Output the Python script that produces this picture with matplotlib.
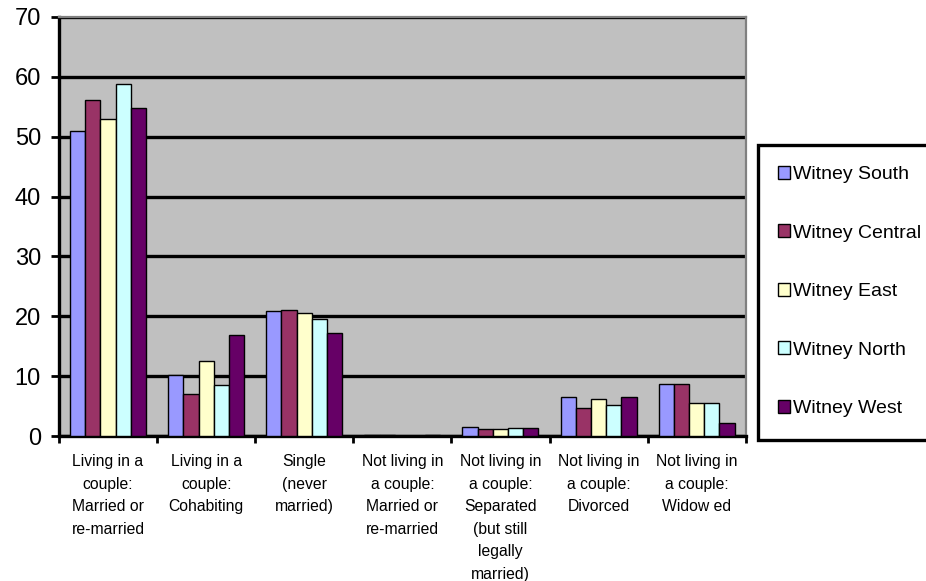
import matplotlib
matplotlib.use("Agg")
import matplotlib.pyplot as plt
from matplotlib.patches import Rectangle
import numpy as np

plt.rcParams['font.family'] = ['Liberation Sans', 'DejaVu Sans']

categories = [
    "Living in a\ncouple:\nMarried or\nre-married",
    "Living in a\ncouple:\nCohabiting",
    "Single\n(never\nmarried)",
    "Not living in\na couple:\nMarried or\nre-married",
    "Not living in\na couple:\nSeparated\n(but still\nlegally\nmarried)",
    "Not living in\na couple:\nDivorced",
    "Not living in\na couple:\nWidow ed",
]
series_names = ["Witney South", "Witney Central", "Witney East", "Witney North", "Witney West"]
witney_south = [51.0, 10.2, 20.9, 0.3, 1.5, 6.5, 8.8]
witney_central = [56.1, 7.0, 21.1, 0.3, 1.2, 4.7, 8.8]
witney_east = [53.0, 12.6, 20.6, 0.1, 1.2, 6.3, 5.6]
witney_north = [58.8, 8.5, 19.6, 0.1, 1.4, 5.3, 5.6]
witney_west = [54.8, 16.9, 17.2, 0.3, 1.4, 6.5, 2.3]
series_values = [witney_south, witney_central, witney_east, witney_north, witney_west]
colors = ["#9999FF", "#993366", "#FFFFCC", "#CCFFFF", "#660066"]
yticks = [0, 10, 20, 30, 40, 50, 60, 70]

W, H = 926, 581
fig = plt.figure(figsize=(W / 100, H / 100), dpi=100)
ax = fig.add_axes([59 / W, 1 - 436.3 / H, (745.7 - 59) / W, (436.3 - 16.7) / H])
ax.set_facecolor("#C0C0C0")

n = len(series_names)
x = np.arange(len(categories))
bw = 0.155
handles = []
for i, (name, vals, c) in enumerate(zip(series_names, series_values, colors)):
    h = ax.bar(x + (i - (n - 1) / 2) * bw, vals, width=bw, color=c,
               edgecolor="black", linewidth=1.0, label=name, zorder=3)
    handles.append(h)

ax.set_xlim(-0.5, len(categories) - 0.5)
ax.set_ylim(0, 70)
ax.set_yticks(yticks)
ax.yaxis.grid(True, color="black", linewidth=2.4, zorder=1)
ax.set_axisbelow(True)

ax.tick_params(axis="y", direction="out", length=6, width=2, pad=7, labelsize=17)
ax.set_xticks(x)
ax.set_xticklabels(categories, fontsize=11.3, linespacing=1.62, va="top")
ax.tick_params(axis="x", which="major", length=0, pad=13)
ax.set_xticks(np.arange(-0.5, len(categories), 1.0), minor=True)
ax.tick_params(axis="x", which="minor", direction="out", length=5, width=2)

for s in ["left", "bottom"]:
    ax.spines[s].set_color("black")
    ax.spines[s].set_linewidth(2.4)
for s in ["top", "right"]:
    ax.spines[s].set_color("#808080")
    ax.spines[s].set_linewidth(1.6)

# legend frame (extends past the right edge like the reference)
fig.patches.append(Rectangle((758 / W, 1 - 440 / H), 200 / W, (440 - 145) / H,
                             transform=fig.transFigure, facecolor="white",
                             edgecolor="black", linewidth=2.4, zorder=0))
leg = fig.legend(handles, series_names, loc="center left",
                 bbox_to_anchor=(770 / W, 1 - 291.5 / H), frameon=False,
                 fontsize=14, handlelength=0.65, handleheight=0.65,
                 handletextpad=0.15, labelspacing=2.12, borderaxespad=0)

fig.savefig("out.png", dpi=100)
